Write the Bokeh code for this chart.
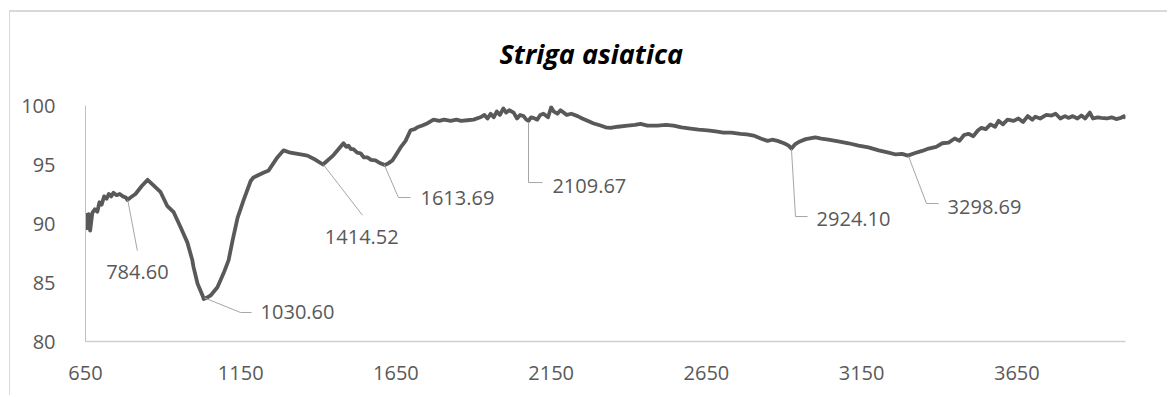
from bokeh.plotting import figure
from bokeh.models import Range1d, FixedTicker, ColumnDataSource, Title
from bokeh.core.properties import value
from bokeh.embed import file_html
from bokeh.resources import INLINE

# ---- data ----
wavenumber = [650, 655, 660, 665, 672, 680, 688, 695, 702, 710, 718, 725, 733, 740, 750, 760, 770, 780, 785,
              795, 811, 832, 850, 870, 892, 913, 934, 956, 978, 994, 998, 1011, 1027, 1031, 1040, 1053, 1075,
              1095, 1111, 1124, 1140, 1159, 1182, 1191, 1223, 1240, 1268, 1288, 1310, 1343, 1365, 1391, 1415,
              1449, 1481, 1490, 1497, 1505, 1513, 1525, 1536, 1547, 1558, 1570, 1584, 1600, 1614, 1625, 1639,
              1652, 1665, 1681, 1697, 1710, 1719, 1735, 1752, 1771, 1790, 1805, 1826, 1845, 1860, 1880, 1900,
              1922, 1935, 1945, 1955, 1965, 1975, 1985, 1996, 2005, 2015, 2029, 2040, 2050, 2061, 2070, 2077,
              2085, 2093, 2105, 2115, 2125, 2140, 2150, 2158, 2170, 2180, 2190, 2200, 2215, 2235, 2250, 2267,
              2285, 2309, 2325, 2341, 2365, 2396, 2420, 2438, 2460, 2492, 2520, 2544, 2570, 2599, 2625, 2654,
              2680, 2705, 2730, 2760, 2780, 2802, 2825, 2847, 2862, 2879, 2900, 2915, 2924, 2935, 2947, 2970,
              3001, 3020, 3043, 3075, 3108, 3140, 3172, 3205, 3237, 3260, 3280, 3299, 3320, 3345, 3366, 3390,
              3410, 3430, 3450, 3465, 3480, 3494, 3510, 3525, 3536, 3550, 3565, 3580, 3591, 3605, 3620, 3640,
              3655, 3670, 3685, 3700, 3710, 3725, 3745, 3762, 3775, 3790, 3805, 3816, 3830, 3845, 3858, 3870,
              3885, 3895, 3910, 3922, 3940, 3955, 3970, 3985, 3995, 4000]
transmittance = [90.9, 89.6, 90.8, 89.4, 90.9, 91.2, 91.0, 91.8, 91.6, 92.3, 92.1, 92.5, 92.3, 92.6, 92.4, 92.5,
                 92.3, 92.2, 92.0, 92.2, 92.5, 93.2, 93.7, 93.2, 92.65, 91.5, 90.96, 89.7, 88.4, 86.9, 86.3,
                 84.9, 83.9, 83.6, 83.7, 83.9, 84.6, 85.8, 86.9, 88.6, 90.5, 91.95, 93.6, 93.9, 94.3, 94.5,
                 95.6, 96.2, 96.0, 95.85, 95.75, 95.4, 95.0, 95.8, 96.8, 96.5, 96.6, 96.3, 96.3, 96.0, 95.95,
                 95.6, 95.6, 95.4, 95.35, 95.1, 94.95, 95.1, 95.35, 95.9, 96.45, 97.0, 97.9, 98.0, 98.15, 98.3,
                 98.5, 98.8, 98.7, 98.8, 98.7, 98.8, 98.7, 98.75, 98.8, 99.0, 99.2, 98.9, 99.3, 99.0, 99.5,
                 99.2, 99.75, 99.4, 99.6, 99.4, 98.9, 99.2, 99.1, 98.8, 98.7, 99.0, 98.95, 98.8, 99.2, 99.3,
                 99.0, 99.85, 99.5, 99.3, 99.6, 99.4, 99.2, 99.3, 99.1, 98.9, 98.7, 98.5, 98.3, 98.15, 98.1,
                 98.2, 98.3, 98.35, 98.45, 98.3, 98.3, 98.35, 98.3, 98.15, 98.05, 97.95, 97.9, 97.8, 97.7,
                 97.7, 97.6, 97.55, 97.45, 97.2, 97.0, 97.1, 97.0, 96.8, 96.6, 96.35, 96.7, 96.9, 97.15, 97.3,
                 97.2, 97.1, 96.95, 96.8, 96.6, 96.45, 96.2, 96.0, 95.85, 95.9, 95.75, 95.95, 96.15, 96.35,
                 96.5, 96.8, 96.85, 97.2, 97.0, 97.5, 97.6, 97.4, 97.9, 98.1, 98.0, 98.4, 98.2, 98.7, 98.4,
                 98.8, 98.7, 98.9, 98.6, 99.1, 98.8, 99.05, 98.9, 99.2, 99.15, 99.3, 98.9, 99.1, 98.95, 99.1,
                 98.9, 99.15, 98.9, 99.4, 98.9, 99.0, 98.95, 98.9, 99.0, 98.85, 98.95, 99.1, 98.9]

peak_labels = ["784.60", "1030.60", "1414.52", "1613.69", "2109.67", "2924.10", "3298.69"]
x_ticks = [650, 1150, 1650, 2150, 2650, 3150, 3650]
y_ticks = [80, 85, 90, 95, 100]
title_text = "Striga asiatica"

# ---- label layout (leader-line paths and text anchors, in data units) ----
leader_xs = [[786, 817], [1033, 1149, 1185], [1416, 1542], [1612, 1658, 1697],
             [2077, 2077, 2122], [2924, 2937, 2976], [3301, 3359, 3398]]
leader_ys = [[92.0, 87.7], [83.7, 82.46, 82.46], [95.0, 90.7], [95.0, 92.2, 92.2],
             [98.6, 93.47, 93.47], [96.3, 90.59, 90.59], [95.7, 91.69, 91.69]]
text_x = [817, 1214, 1540, 1729, 2154, 3005, 3427]
text_y = [85.93, 82.46, 88.84, 92.12, 93.22, 90.42, 91.44]
text_align = ["center", "left", "center", "left", "left", "left", "left"]

GREY_TEXT = "#595959"
FONT = "Open Sans"

p = figure(width=1158, height=385, output_backend="svg", toolbar_location=None,
           x_range=Range1d(650, 4000), y_range=Range1d(80, 100),
           min_border_left=75, min_border_right=43, min_border_top=93, min_border_bottom=56)
# chart border (only left/top edges visible in the cropped reference) via CSS shadow
p.styles = {"margin-left": "10px", "margin-top": "12px", "box-shadow": "-1px -2px 0 0 #d9d9d9"}
p.outline_line_color = None
p.grid.visible = False
p.background_fill_color = "white"
p.border_fill_color = "white"

# title (outermost) plus a spacer between it and the plot area
p.title.text = title_text
p.title.align = "left"
p.title.offset = 414
p.title.text_font = FONT
p.title.text_font_size = "27px"
p.title.text_font_style = "bold italic"
p.title.text_color = "black"
p.add_layout(Title(text=" ", text_font_size="16px"), "above")

p.line(wavenumber, transmittance, line_color="#595959", line_width=3.8, line_join="round")

p.multi_line(leader_xs, leader_ys, line_color="#a6a6a6", line_width=1)

src = ColumnDataSource(dict(x=text_x, y=text_y, t=peak_labels, a=text_align))
p.text(x="x", y="y", text="t", text_align="a", text_baseline="middle", source=src,
       text_font=value(FONT), text_font_size="20px", text_color=GREY_TEXT)

for ax in (p.xaxis[0], p.yaxis[0]):
    ax.major_tick_line_color = None
    ax.minor_tick_line_color = None
    ax.major_label_text_font = FONT
    ax.major_label_text_font_size = "20px"
    ax.major_label_text_color = GREY_TEXT

p.xaxis[0].ticker = FixedTicker(ticks=x_ticks)
p.yaxis[0].ticker = FixedTicker(ticks=y_ticks)
p.xaxis[0].axis_line_color = "#d0d0d0"
p.xaxis[0].axis_line_width = 1.5
p.yaxis[0].axis_line_color = "#c0c0c0"
p.yaxis[0].axis_line_width = 1
p.xaxis[0].major_label_standoff = 18
p.yaxis[0].major_label_standoff = 24

open("out.html", "w").write(file_html(p, INLINE))
